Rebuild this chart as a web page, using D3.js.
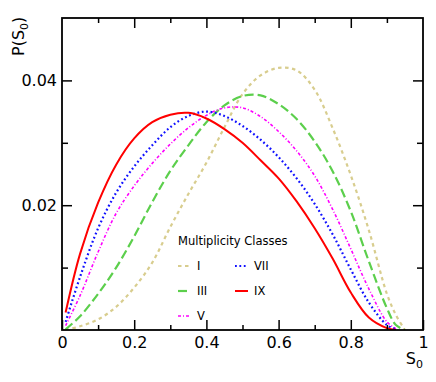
<!DOCTYPE html>
<html>
<head>
<meta charset="utf-8">
<script src="https://cdn.jsdelivr.net/npm/d3@7"></script>
<style>
  body { margin: 0; background: #fff; }
  text { font-family: "DejaVu Sans", sans-serif; fill: #000; }
</style>
</head>
<body>
<div id="chart"></div>
<script>
// S0 sample points shared by all classes
var sGrid = [0.01, 0.05, 0.1, 0.15, 0.2, 0.25, 0.3, 0.35, 0.4, 0.45, 0.5,
             0.55, 0.6, 0.65, 0.7, 0.75, 0.8, 0.85, 0.9, 0.925, 0.95];

// P(S0) per multiplicity class (null = no point)
var classI   = [0.0, 0.0006, 0.0017, 0.0037, 0.0068, 0.0108, 0.0165, 0.0218, 0.0268, 0.0325, 0.0378,
                0.0408, 0.0420, 0.0416, 0.0385, 0.0323, 0.0248, 0.0160, 0.0058, 0.0024, 0.0];
var classIII = [0.0001, 0.0022, 0.0058, 0.0100, 0.0150, 0.0205, 0.0255, 0.0296, 0.0333, 0.0360, 0.0375,
                0.0376, 0.0362, 0.0338, 0.0302, 0.0254, 0.0190, 0.0110, 0.0035, 0.0008, 0.0];
var classV   = [0.0007, 0.0055, 0.0125, 0.0187, 0.0231, 0.0267, 0.0298, 0.0324, 0.0344, 0.0356, 0.0356,
                0.0342, 0.0318, 0.0287, 0.0247, 0.0193, 0.0130, 0.0066, 0.0013, 0.0002, null];
var classVII = [0.0013, 0.0085, 0.0163, 0.0220, 0.0262, 0.0296, 0.0325, 0.0343, 0.0350, 0.0343, 0.0327,
                0.0305, 0.0277, 0.0243, 0.0202, 0.0153, 0.0097, 0.0044, 0.0008, 0.0001, null];
var classIX  = [0.0028, 0.0122, 0.0204, 0.0265, 0.0307, 0.0333, 0.0345, 0.0348, 0.0339, 0.0322, 0.0300,
                0.0272, 0.0243, 0.0206, 0.0163, 0.0114, 0.0060, 0.0020, 0.0003, 0.0, null];

var xTicks = [0, 0.2, 0.4, 0.6, 0.8, 1];
var yTicks = [0.02, 0.04];

var width = 436, height = 382;
var margin = {top: 18, right: 13, bottom: 52, left: 62};
var chartWidth = width - margin.left - margin.right;
var chartHeight = height - margin.top - margin.bottom;

var series = [
  {key: "I",   values: classI,   color: "#d8cd8e", dash: "3.5,3.5", w: 2.2},
  {key: "III", values: classIII, color: "#5ccf4c", dash: "9,4",     w: 2.2},
  {key: "V",   values: classV,   color: "#ff00ff", dash: "3,2,1,2", w: 1.6},
  {key: "VII", values: classVII, color: "#1010ff", dash: "1.8,2.6", w: 2.2},
  {key: "IX",  values: classIX,  color: "#ff0000", dash: null,      w: 2}
];

var svg = d3.select("#chart").append("svg")
    .attr("width", width)
    .attr("height", height);

var xScale = d3.scaleLinear().domain([0, 1]).range([0, chartWidth]);
var yScale = d3.scaleLinear().domain([0, 0.05]).range([chartHeight, 0]);

var viz = svg.append("g")
    .attr("transform", "translate(" + margin.left + "," + margin.top + ")");

viz.append("clipPath").attr("id", "plotclip")
  .append("rect").attr("width", chartWidth).attr("height", chartHeight);

// curves
var line = d3.line()
    .defined(function (d) { return d[1] !== null; })
    .x(function (d) { return xScale(d[0]); })
    .y(function (d) { return yScale(d[1]); })
    .curve(d3.curveCatmullRom.alpha(0.5));

var curves = viz.append("g").attr("clip-path", "url(#plotclip)");
series.forEach(function (s) {
  var pts = sGrid.map(function (x, i) { return [x, s.values[i]]; });
  curves.append("path")
      .datum(pts)
      .attr("d", line)
      .attr("fill", "none")
      .attr("stroke", s.color)
      .attr("stroke-width", s.w)
      .attr("stroke-dasharray", s.dash);
});

// axes with inward ticks, mirrored on top / right
var xMinor = [0.1, 0.3, 0.5, 0.7, 0.9];
var yMinor = [0.01, 0.03];

function tickStyle(g) {
  g.select(".domain").remove();
  g.selectAll(".tick line").attr("stroke", "#000").attr("stroke-width", 1.5);
}

viz.append("g")
    .attr("transform", "translate(0," + chartHeight + ")")
    .call(d3.axisBottom(xScale).tickValues(xTicks).tickSize(-10).tickPadding(7)
      .tickFormat(function (d) { return d === 0 || d === 1 ? d : d3.format(".1f")(d); }))
    .call(tickStyle)
    .call(function (g) {
      g.selectAll(".tick text").attr("font-size", "16px").attr("fill", "#000")
       .attr("font-family", "DejaVu Sans");
    });

viz.append("g")
    .attr("transform", "translate(0," + chartHeight + ")")
    .call(d3.axisBottom(xScale).tickValues(xMinor).tickSize(-5).tickFormat(""))
    .call(tickStyle);

viz.append("g")
    .call(d3.axisTop(xScale).tickValues(xTicks.slice(1, 5)).tickSize(-10).tickFormat(""))
    .call(tickStyle);
viz.append("g")
    .call(d3.axisTop(xScale).tickValues(xMinor).tickSize(-5).tickFormat(""))
    .call(tickStyle);

viz.append("g")
    .call(d3.axisLeft(yScale).tickValues(yTicks).tickSize(-10).tickPadding(5)
      .tickFormat(d3.format(".2f")))
    .call(tickStyle)
    .call(function (g) {
      g.selectAll(".tick text").attr("font-size", "16px").attr("fill", "#000")
       .attr("font-family", "DejaVu Sans");
    });
viz.append("g")
    .call(d3.axisLeft(yScale).tickValues(yMinor).tickSize(-6).tickFormat(""))
    .call(tickStyle);

viz.append("g")
    .attr("transform", "translate(" + chartWidth + ",0)")
    .call(d3.axisRight(yScale).tickValues(yTicks).tickSize(-10).tickFormat(""))
    .call(tickStyle);
viz.append("g")
    .attr("transform", "translate(" + chartWidth + ",0)")
    .call(d3.axisRight(yScale).tickValues(yMinor).tickSize(-6).tickFormat(""))
    .call(tickStyle);

// frame
viz.append("rect")
    .attr("width", chartWidth)
    .attr("height", chartHeight)
    .attr("fill", "none")
    .attr("stroke", "#000")
    .attr("stroke-width", 1.8);

// axis titles
var xt = svg.append("text")
    .attr("x", width - margin.right)
    .attr("y", 364)
    .attr("text-anchor", "end")
    .attr("font-size", "16px");
xt.append("tspan").text("S");
xt.append("tspan").attr("font-size", "11px").attr("dy", 4).text("0");

var yt = svg.append("text")
    .attr("transform", "translate(24,56) rotate(-90)")
    .attr("font-size", "16px");
yt.append("tspan").text("P(S");
yt.append("tspan").attr("font-size", "11px").attr("dy", 4).text("0");
yt.append("tspan").attr("dy", -4).text(")");

// legend
var legend = svg.append("g");
legend.append("text")
    .attr("x", 178).attr("y", 245)
    .attr("font-size", "11.5px")
    .text("Multiplicity Classes");

var legendPos = [
  {x: 178, y: 266}, {x: 178, y: 291}, {x: 178, y: 316},
  {x: 235, y: 266}, {x: 235, y: 291}
];
series.forEach(function (s, i) {
  var p = legendPos[i];
  legend.append("line")
      .attr("x1", p.x).attr("x2", p.x + 13)
      .attr("y1", p.y).attr("y2", p.y)
      .attr("stroke", s.color)
      .attr("stroke-width", s.w)
      .attr("stroke-dasharray", s.dash);
  legend.append("text")
      .attr("x", p.x + 19).attr("y", p.y + 4)
      .attr("font-size", "11.5px")
      .text(s.key);
});
</script>
</body>
</html>
